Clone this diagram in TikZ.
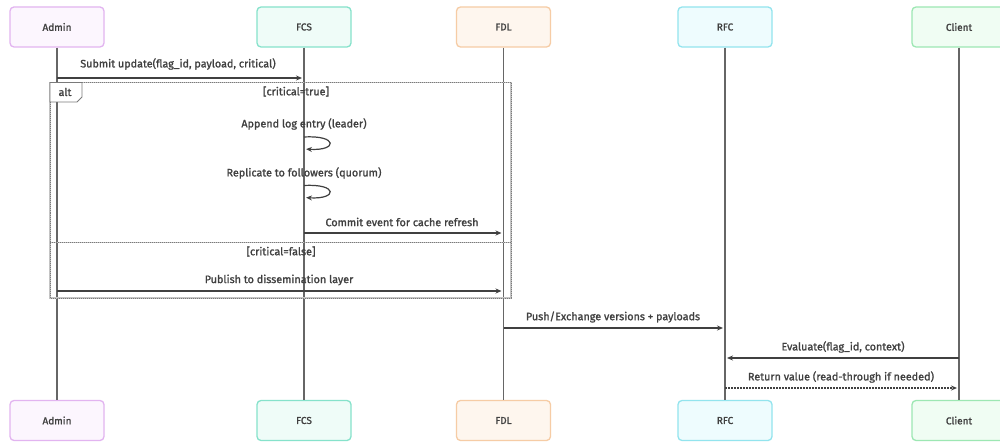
\documentclass[tikz,border=0pt]{standalone}
\usepackage{fontspec}
\setmainfont{Fira Sans}[FakeBold=1.4]
\usetikzlibrary{arrows.meta}
\definecolor{txt}{HTML}{404040}
\definecolor{lifec}{HTML}{666666}
\definecolor{admB}{HTML}{E2B4F0}\definecolor{admF}{HTML}{FCF6FE}
\definecolor{fcsB}{HTML}{86E2CB}\definecolor{fcsF}{HTML}{EFFCF8}
\definecolor{fdlB}{HTML}{F6CCA5}\definecolor{fdlF}{HTML}{FEF6EE}
\definecolor{rfcB}{HTML}{93E4EE}\definecolor{rfcF}{HTML}{EEFCFE}
\definecolor{cliB}{HTML}{9DE7B3}\definecolor{cliF}{HTML}{F0FDF3}
\definecolor{frameL}{HTML}{C4C4C4}
\definecolor{frameD}{HTML}{7A7A7A}
\tikzset{
  part/.style={rounded corners=4pt, line width=1.3pt, minimum width=94pt,
    minimum height=40pt, inner sep=0pt, font=\fontsize{10}{12}\selectfont, text=txt},
  life/.style={draw=lifec, line width=1.5pt},
  msg/.style={draw=txt, line width=1.2pt, -{Stealth[length=6pt,width=5pt]}, shorten >=2pt},
  reply/.style={msg, dash pattern=on 1.5pt off 1.5pt},
  lbl/.style={font=\fontsize{10.8}{12}\selectfont, text=txt, inner sep=1pt},
  frameline/.style={draw=frameL, line width=1.6pt},
  framedots/.style={draw=frameD, line width=0.8pt, dash pattern=on 1pt off 1pt},
}
\begin{document}
\begin{tikzpicture}[x=1pt,y=-1pt]
\useasboundingbox[fill=white] (0,0) rectangle (1000,446);

% participants, top row
\node[part, draw=admB, fill=admF] (admin) at (57,27) {Admin};
\node[part, draw=fcsB, fill=fcsF] (fcs) at (304,27) {FCS};
\node[part, draw=fdlB, fill=fdlF] (fdl) at (503.5,27) {FDL};
\node[part, draw=rfcB, fill=rfcF] (rfc) at (725,27) {RFC};
\node[part, draw=cliB, fill=cliF] (cli) at (959,27) {Client};

% participants, bottom row
\node[part, draw=admB, fill=admF] (admin2) at (57,420.5) {Admin};
\node[part, draw=fcsB, fill=fcsF] (fcs2) at (304,420.5) {FCS};
\node[part, draw=fdlB, fill=fdlF] (fdl2) at (503.5,420.5) {FDL};
\node[part, draw=rfcB, fill=rfcF] (rfc2) at (725,420.5) {RFC};
\node[part, draw=cliB, fill=cliF] (cli2) at (959,420.5) {Client};

% lifelines
\draw[life] (admin.south) -- (admin2.north);
\draw[life] (fcs.south) -- (fcs2.north);
\draw[life] (fdl.south) -- (fdl2.north);
\draw[life] (rfc.south) -- (rfc2.north);
\draw[life] (cli.south) -- (cli2.north);

% alt fragment: pale outline with a dotted stroke over it
\draw[frameline] (50,82.5) rectangle (511,298);
\draw[framedots] (50,82.5) rectangle (511,298);
\draw[frameline] (50,242.5) -- (511,242.5);
\draw[framedots] (50,242.5) -- (511,242.5);
\draw[draw=frameD, line width=0.9pt, fill=white] (50,82.5) -- (82,82.5) -- (82,97) -- (77,102) -- (50,102) -- cycle;
\node[lbl] (altlbl) at (65,92) {alt};
\node[lbl] (cond1) at (296,91.5) {[critical=true]};
\node[lbl] (cond2) at (281,251.5) {[critical=false]};

% messages
\node[lbl] (m1) at (178,64) {Submit update(flag\_id, payload, critical)};
\draw[msg] (admin |- 0,78) -- (fcs |- 0,78);

\node[lbl] (m2) at (304,124) {Append log entry (leader)};
\draw[msg] (fcs |- 0,137) .. controls (338,135) and (338,151) .. (fcs |- 0,149);

\node[lbl] (m3) at (304,173) {Replicate to followers (quorum)};
\draw[msg] (fcs |- 0,185.5) .. controls (338,183.5) and (338,199.5) .. (fcs |- 0,197.5);

\node[lbl] (m4) at (402,222) {Commit event for cache refresh};
\draw[msg] (fcs |- 0,233) -- (fdl |- 0,233);

\node[lbl] (m5) at (279,280) {Publish to dissemination layer};
\draw[msg] (admin |- 0,291) -- (fdl |- 0,291);

\node[lbl] (m6) at (613,317) {Push/Exchange versions + payloads};
\draw[msg] (fdl |- 0,328) -- (rfc |- 0,328);

\node[lbl] (m7) at (843,347) {Evaluate(flag\_id, context)};
\draw[msg] (cli |- 0,358) -- (rfc |- 0,358);

\node[lbl] (m8) at (841,377) {Return value (read-through if needed)};
\draw[reply] (rfc |- 0,388) -- (cli |- 0,388);
\end{tikzpicture}
\end{document}
